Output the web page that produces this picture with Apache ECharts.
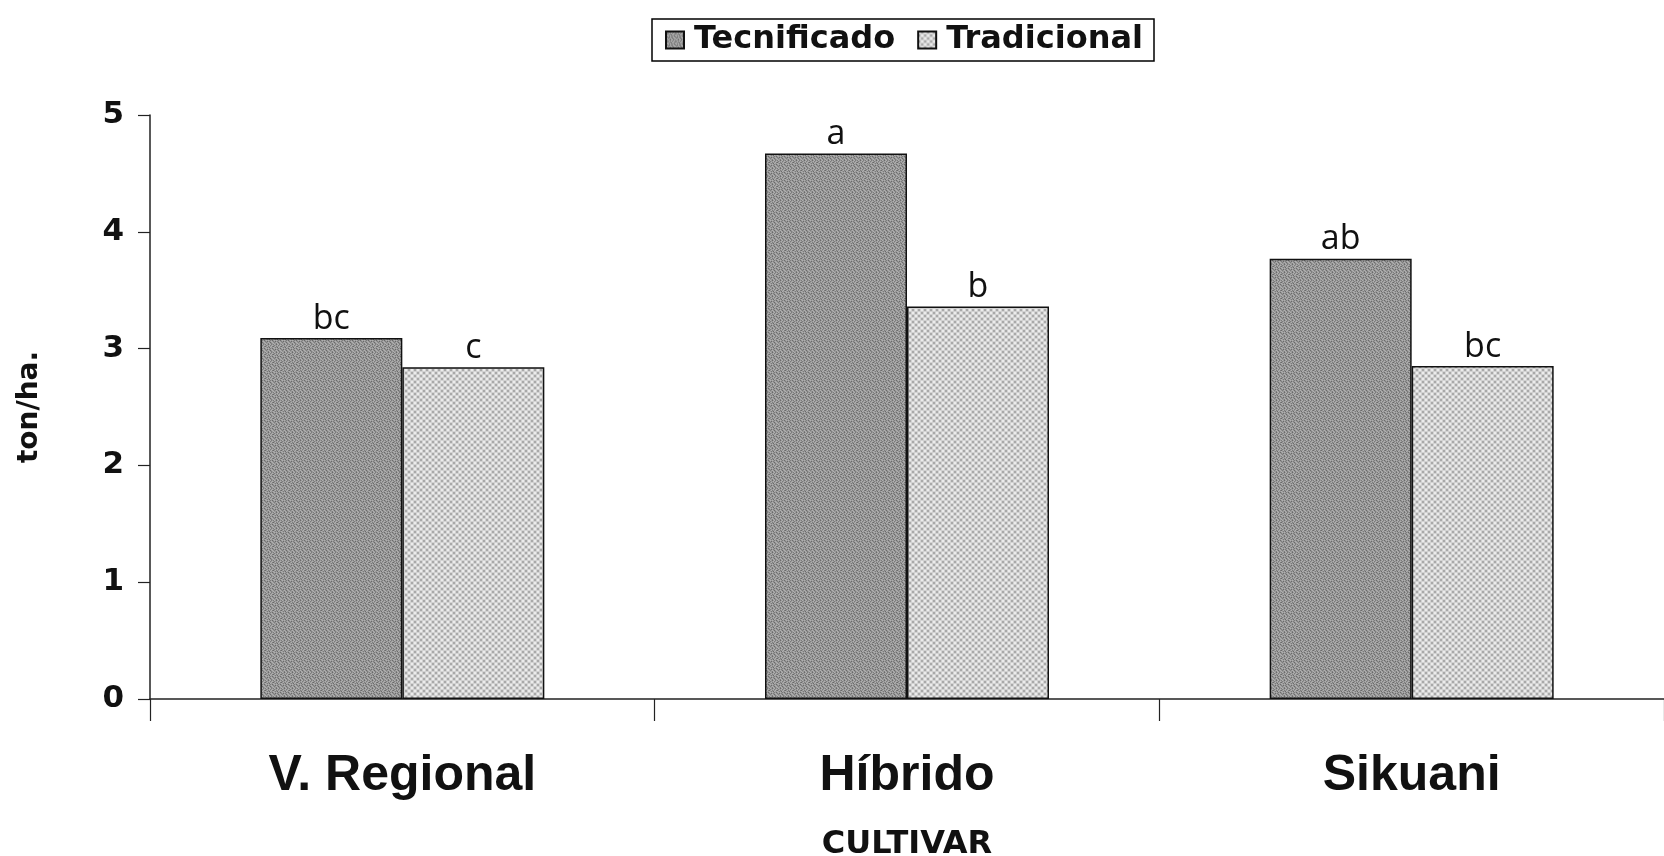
<!DOCTYPE html>
<html>
<head>
<meta charset="utf-8">
<script src="https://cdn.jsdelivr.net/npm/echarts@6/dist/echarts.min.js"></script>
<style>html,body{margin:0;padding:0;background:#fff;}</style>
</head>
<body>
<div id="main" style="width:1664px;height:856px;"></div>
<script>
var categories = ['V. Regional', 'Híbrido', 'Sikuani'];
var tecnificado = [3.09, 4.67, 3.77];
var tradicional = [2.84, 3.36, 2.85];
var tecLabels = ['bc', 'a', 'ab'];
var traLabels = ['c', 'b', 'bc'];

// texturas de relleno (solo estilo)
function tilePattern(rows) {
  var c = document.createElement('canvas');
  c.width = rows[0].length; c.height = rows.length;
  var g = c.getContext('2d');
  for (var y = 0; y < rows.length; y++) {
    for (var x = 0; x < rows[y].length; x++) {
      g.fillStyle = rows[y][x];
      g.fillRect(x, y, 1, 1);
    }
  }
  return c;
}
var d1 = '#7c7c7c', d2 = '#999999', d3 = '#b0b0b0', d4 = '#6a6a6a';
var darkPat = tilePattern([
  [d2, d1, d3, d2, d4, d2, d3, d1],
  [d3, d2, d1, d2, d2, d3, d1, d2],
  [d1, d4, d2, d3, d1, d2, d2, d3],
  [d2, d3, d2, d1, d2, d4, d3, d2],
  [d4, d2, d3, d2, d3, d2, d1, d2],
  [d2, d1, d2, d4, d2, d1, d2, d3],
  [d3, d2, d1, d2, d3, d2, d4, d2],
  [d2, d3, d2, d2, d1, d3, d2, d1]
]);
var l1 = '#ececec', l2 = '#d2d2d2', l3 = '#a9a9a9';
var lightPat = tilePattern([
  [l1, l1, l2, l3, l3, l2],
  [l1, l1, l2, l3, l3, l2],
  [l2, l2, l2, l2, l2, l2],
  [l3, l3, l2, l1, l1, l2],
  [l3, l3, l2, l1, l1, l2],
  [l2, l2, l2, l2, l2, l2]
]);

var myChart = echarts.init(document.getElementById('main'));
var option = {
  animation: false,
  legend: {
    left: 652, top: 19,
    itemWidth: 18, itemHeight: 17, itemGap: 22,
    icon: 'rect',
    padding: [5, 11, 5, 13],
    borderColor: '#000', borderWidth: 1.5,
    textStyle: { fontFamily: 'DejaVu Sans', fontWeight: 'bold', fontSize: 32, color: '#111', padding: [0, 0, 0, 5] },
    data: ['Tecnificado', 'Tradicional']
  },
  grid: { left: 150, right: 0, top: 115, bottom: 157, outerBoundsMode: 'none' },
  xAxis: {
    type: 'category',
    data: categories,
    name: 'CULTIVAR',
    nameLocation: 'middle',
    nameGap: 130,
    nameTextStyle: { fontFamily: 'DejaVu Sans', fontWeight: 'bold', fontSize: 32, color: '#111' },
    axisLine: { lineStyle: { color: '#222', width: 1.5 } },
    axisTick: { show: true, length: 22, lineStyle: { color: '#222', width: 1.2 } },
    axisLabel: { margin: 52, fontFamily: 'Liberation Sans', fontWeight: 'bold', fontSize: 50, color: '#111' }
  },
  yAxis: {
    type: 'value',
    min: 0, max: 5, interval: 1,
    name: 'ton/ha.',
    nameLocation: 'middle',
    nameGap: 106,
    nameTextStyle: { fontFamily: 'DejaVu Sans', fontWeight: 'bold', fontSize: 28, color: '#111' },
    axisLine: { show: true, lineStyle: { color: '#222', width: 1.5 } },
    axisTick: { show: true, length: 12, lineStyle: { color: '#222', width: 1.2 } },
    splitLine: { show: false },
    axisLabel: { margin: 26, fontFamily: 'DejaVu Sans', fontWeight: 'bold', fontSize: 31, color: '#111' }
  },
  series: [
    {
      name: 'Tecnificado',
      type: 'bar',
      barWidth: 142,
      barGap: '0%',
      data: tecnificado,
      itemStyle: { color: { image: darkPat, repeat: 'repeat' }, borderColor: '#111', borderWidth: 1.5 },
      label: {
        show: true, position: 'top', distance: 2,
        fontFamily: 'Open Sans', fontSize: 34, color: '#111',
        formatter: function (p) { return tecLabels[p.dataIndex]; }
      }
    },
    {
      name: 'Tradicional',
      type: 'bar',
      barWidth: 142,
      data: tradicional,
      itemStyle: { color: { image: lightPat, repeat: 'repeat' }, borderColor: '#111', borderWidth: 1.5 },
      label: {
        show: true, position: 'top', distance: 2,
        fontFamily: 'Open Sans', fontSize: 34, color: '#111',
        formatter: function (p) { return traLabels[p.dataIndex]; }
      }
    }
  ]
};
myChart.setOption(option);
</script>
</body>
</html>
